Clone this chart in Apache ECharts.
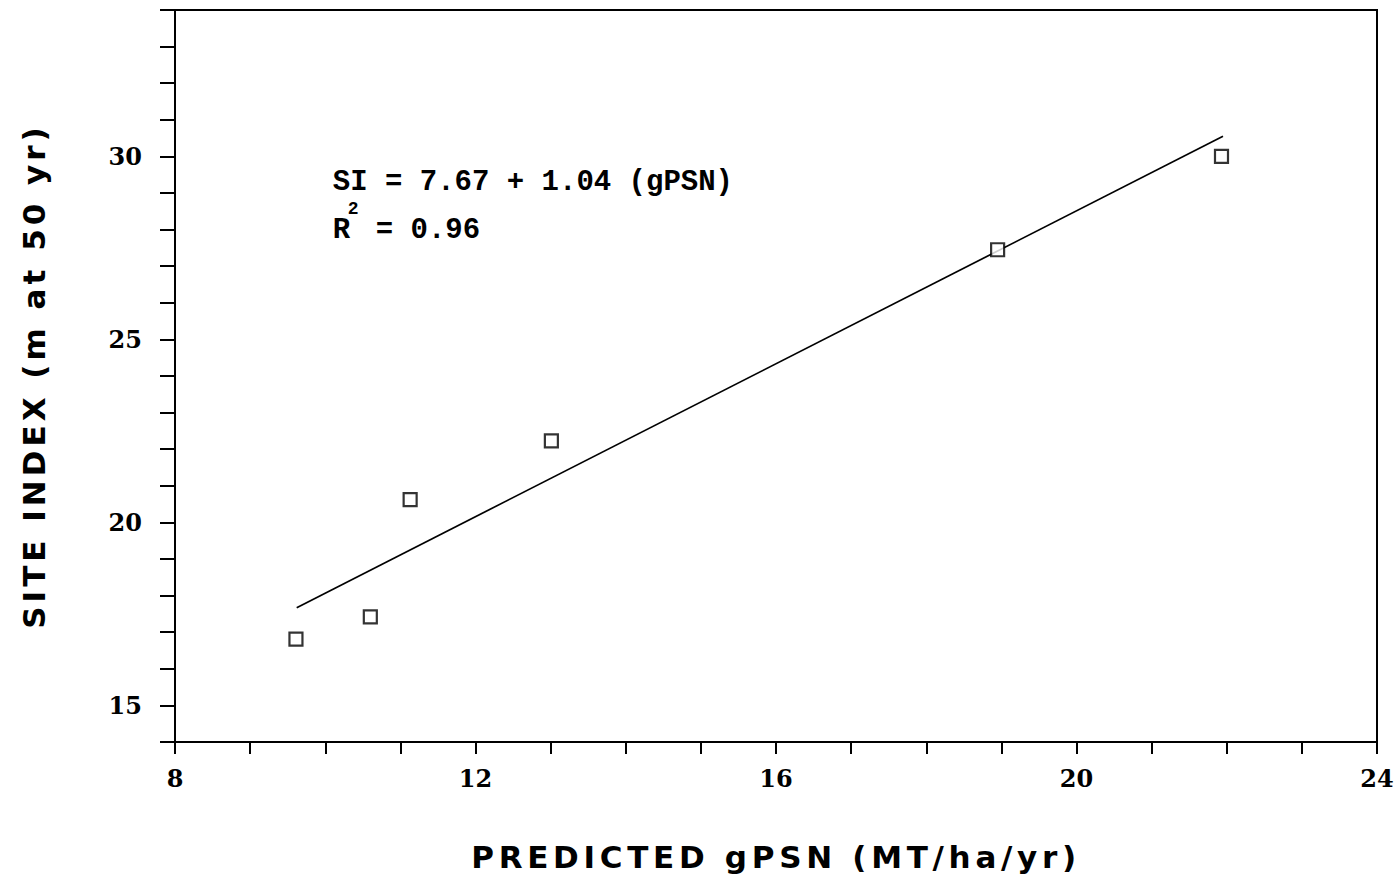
<!DOCTYPE html>
<html>
<head>
<meta charset="utf-8">
<script src="https://cdn.jsdelivr.net/npm/echarts@6/dist/echarts.min.js"></script>
<style>
html,body{margin:0;padding:0;background:#fff;}
#chart{width:1398px;height:891px;}
#chart text[style*="xtitlefont"]{letter-spacing:4.7px;}
#chart text[style*="ytitlefont"]{letter-spacing:4px;}
</style>
</head>
<body>
<div id="chart"></div>
<script>
// Observed data points (predicted gPSN, site index)
const pointX = [9.61, 10.60, 11.13, 13.01, 18.95, 21.93];
const pointY = [16.81, 17.42, 20.62, 22.23, 27.45, 30.00];
// Regression line endpoints
const lineX = [9.62, 21.95];
const lineY = [17.67, 30.55];
// Axis settings
const xMin = 8, xMax = 24, xLabelStep = 4;
const yMin = 14, yMax = 34, yLabelStep = 5;
const xTitle = 'PREDICTED gPSN (MT/ha/yr)';
const yTitle = 'SITE INDEX (m at 50 yr)';
const eqLine1 = 'SI = 7.67 + 1.04 (gPSN)';
const eqR = 'R', eqSup = '2', eqRest = '= 0.96';
const annotAt = [10.10, 29.30];

const chart = echarts.init(document.getElementById('chart'), null, {renderer: 'svg'});
const tickFont = {fontFamily: 'DejaVu Serif', fontWeight: 'bold', fontSize: 24, color: '#000'};

chart.setOption({
  backgroundColor: '#fff',
  animation: false,
  grid: {left: 175, right: 21, top: 10, bottom: 149, show: true, borderColor: '#000', borderWidth: 2, backgroundColor: 'transparent'},
  xAxis: {
    type: 'value', min: xMin, max: xMax, interval: 1,
    axisLine: {show: true, lineStyle: {color: '#000', width: 2}},
    axisTick: {show: true, length: 12, lineStyle: {color: '#000', width: 2}},
    splitLine: {show: false},
    axisLabel: Object.assign({margin: 24, formatter: v => (v % xLabelStep === 0 ? String(v) : '')}, tickFont),
    name: xTitle, nameLocation: 'middle', nameGap: 99,
    nameTextStyle: {fontFamily: "'DejaVu Sans', xtitlefont", fontWeight: 'bold', fontSize: 31, color: '#000'}
  },
  yAxis: {
    type: 'value', min: yMin, max: yMax, interval: 1,
    axisLine: {show: true, lineStyle: {color: '#000', width: 2}},
    axisTick: {show: true, length: 15, lineStyle: {color: '#000', width: 2}},
    splitLine: {show: false},
    axisLabel: Object.assign({margin: 33, formatter: v => (v % yLabelStep === 0 ? String(v) : '')}, tickFont),
    name: yTitle, nameLocation: 'middle', nameGap: 126,
    nameTextStyle: {fontFamily: "'DejaVu Sans', ytitlefont", fontWeight: 'bold', fontSize: 31, color: '#000'}
  },
  series: [
    {
      type: 'line',
      data: lineX.map((x, i) => [x, lineY[i]]),
      showSymbol: false,
      lineStyle: {color: '#000', width: 1.7},
      silent: true
    },
    {
      type: 'scatter',
      data: pointX.map((x, i) => [x, pointY[i]]),
      symbol: 'rect',
      symbolSize: 13,
      itemStyle: {color: '#fff', borderColor: '#000', borderWidth: 2.2},
      z: 3
    }
  ]
});

const p = chart.convertToPixel({gridIndex: 0}, annotAt);
const monoFont = '"Liberation Mono", "DejaVu Sans Mono", monospace';
function txt(text, dx, dy, size) {
  return {
    type: 'text', x: p[0] + dx, y: p[1] + dy,
    style: {text: text, fontFamily: monoFont, fontWeight: 'bold', fontSize: size, fill: '#000', verticalAlign: 'middle', align: 'left'}
  };
}
chart.setOption({
  graphic: [
    txt(eqLine1, 0, 0, 29),
    txt(eqR, 0, 48, 29),
    txt(eqSup, 15, 27, 18),
    txt(eqRest, 43, 48, 29)
  ]
});
</script>
</body>
</html>
